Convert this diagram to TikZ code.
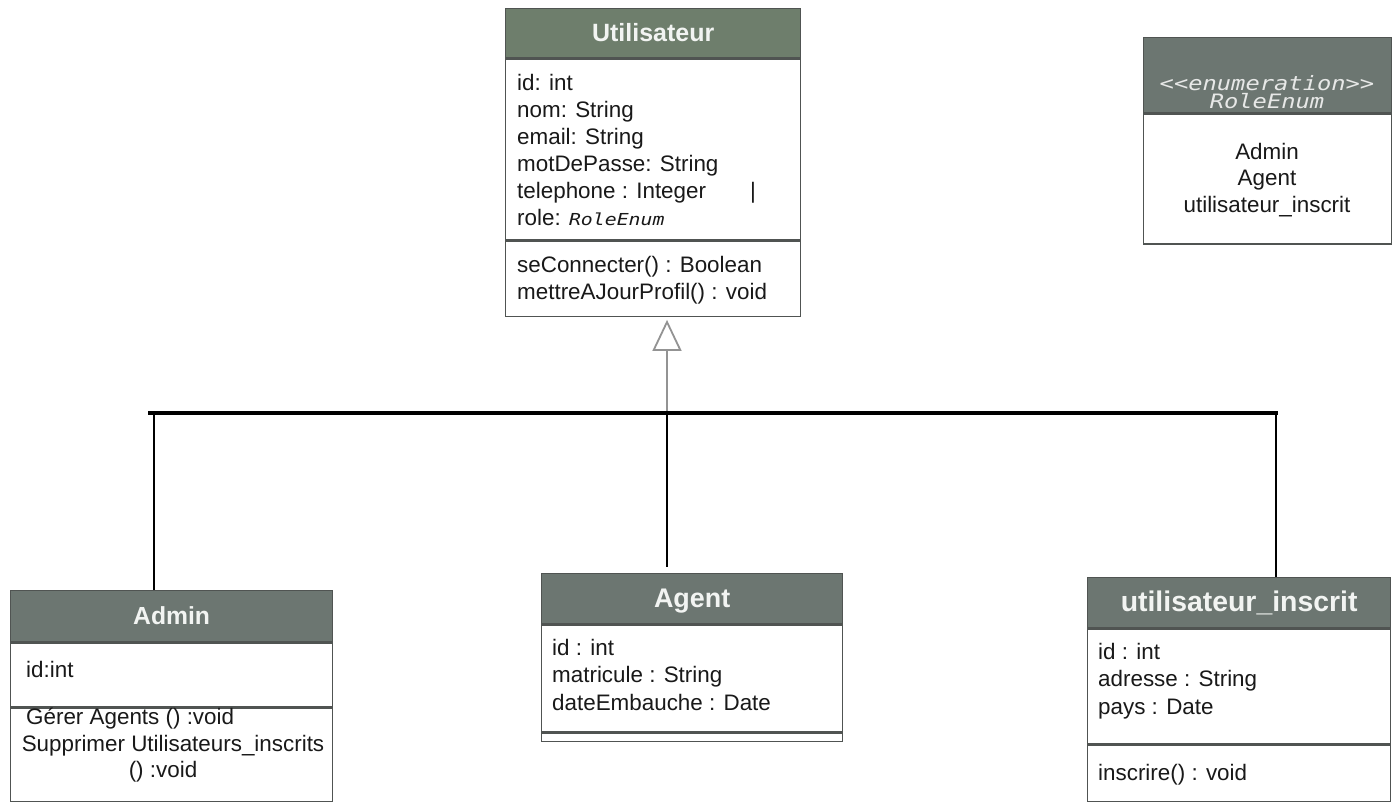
\documentclass[tikz,border=0pt]{standalone}
\usepackage{fontspec}
\setmainfont{Liberation Sans}
\newfontfamily\enumfont[FakeStretch=1.2]{DejaVu Sans Mono}
\usetikzlibrary{arrows.meta,positioning}

\definecolor{headgreen}{RGB}{110,126,108}
\definecolor{headgray}{RGB}{108,118,113}
\definecolor{rim}{RGB}{80,84,82}
\definecolor{titletext}{RGB}{242,244,242}
\definecolor{ink}{RGB}{25,25,25}

\begin{document}
\begin{tikzpicture}[
  x=1pt, y=-1pt,
  head/.style={draw=rim, line width=1.3pt, fill=headgray, text=titletext, inner sep=0pt, anchor=north west,
    text height=17pt, text depth=0pt, font=\bfseries\fontsize{25}{25}\selectfont},
  part/.style={draw=rim, line width=1.3pt, fill=white, inner sep=0pt, anchor=north west},
  member/.style={font=\fontsize{22.4}{27}\selectfont, text=ink, inner sep=0pt, anchor=base west},
  link/.style={line width=2.6pt, black},
  gen/.style={-{Triangle[open, length=31pt, width=29pt]}, line width=1.8pt, gray!85}
]
\useasboundingbox[fill=white] (0,0) rectangle (1395,803);

% inheritance connectors
\coordinate (barL) at (148,413);
\coordinate (barR) at (1278,413);
\coordinate (junc) at (667,413);
\coordinate (tA) at (154,413);
\coordinate (tC) at (1276,413);

% Utilisateur
\node[head, fill=headgreen, minimum width=295, minimum height=49] (userHead) at (505,8) {Utilisateur};
\node[part, minimum width=295, minimum height=181] (userAttr) at (userHead.south west) {};
\node[part, minimum width=295, minimum height=75] (userOps) at (userAttr.south west) {};
\foreach \m [count=\i from 0] in {id: int, nom: String, email: String, motDePasse: String, telephone : Integer,
    role: {\enumfont\itshape\fontsize{16.5}{16.5}\selectfont RoleEnum}}
  \node[member] (userA\i) at (517, 90+27*\i) {\m};
\node[member] (userBar) at (750,198) {|};
\node[member] (userM0) at (517,272) {seConnecter() : Boolean};
\node[member] (userM1) at (517,299) {mettreAJourProfil() : void};

% RoleEnum
\node[head, minimum width=248, minimum height=75] (enumHead) at (1143,37) {};
\node[part, minimum width=248, minimum height=130] (enumVals) at (enumHead.south west) {};
\node[align=center, inner sep=0pt, text=titletext!90!gray, font=\enumfont\itshape\fontsize{19.8}{17.5}\selectfont]
  (enumTitle) at (1267,92) {<\kern0pt<enumeration>\kern0pt>\\RoleEnum};
\foreach \v [count=\i from 0] in {Admin, Agent, utilisateur\_inscrit}
  \node[member, anchor=base] (enumV\i) at (1267, 159+26.5*\i) {\v};

% Admin
\node[head, font=\bfseries\fontsize{24.7}{24.7}\selectfont, minimum width=322, minimum height=51] (adminHead) at (10,590) {Admin};
\node[part, minimum width=322, minimum height=64] (adminAttr) at (adminHead.south west) {};
\node[part, minimum width=322, minimum height=93] (adminOps) at (adminAttr.south west) {};
\node[member] (adminA0) at (26,677) {id:int};
\node[member] (adminM0) at (26,724) {Gérer Agents () :void};
\node[member, anchor=base] (adminM1) at (173,751) {Supprimer Utilisateurs\_inscrits};
\node[member, anchor=base] (adminM2) at (163,777) {() :void};

% Agent
\node[head, font=\bfseries\fontsize{26.9}{26.9}\selectfont, minimum width=301, minimum height=50] (agentHead) at (541,573) {Agent};
\node[part, minimum width=301, minimum height=107] (agentAttr) at (agentHead.south west) {};
\node[part, minimum width=301, minimum height=8] (agentOps) at (agentAttr.south west) {};
\foreach \m [count=\i from 0] in {id : int, matricule : String, dateEmbauche : Date}
  \node[member] (agentA\i) at (552, 655+27.5*\i) {\m};

% utilisateur_inscrit
\node[head, font=\bfseries\fontsize{28.4}{28.4}\selectfont, minimum width=303, minimum height=50] (inscHead) at (1087,577) {utilisateur\_inscrit};
\node[part, minimum width=303, minimum height=115] (inscAttr) at (inscHead.south west) {};
\node[part, minimum width=303, minimum height=56] (inscOps) at (inscAttr.south west) {};
\foreach \m [count=\i from 0] in {id : int, adresse : String, pays : Date}
  \node[member] (inscA\i) at (1098, 659+27.5*\i) {\m};
\node[member] (inscM0) at (1098,780) {inscrire() : void};

% generalisation
\draw[gen] (junc) -- ([yshift=-3pt]junc |- userOps.south);
\draw[link, line width=3.8pt] (barL) -- (barR);
\draw[link] (tA) -- (tA |- adminHead.north);
\draw[link] (junc) -- ([yshift=6pt]junc |- agentHead.north);
\draw[link] (tC) -- (tC |- inscHead.north);
\end{tikzpicture}
\end{document}
